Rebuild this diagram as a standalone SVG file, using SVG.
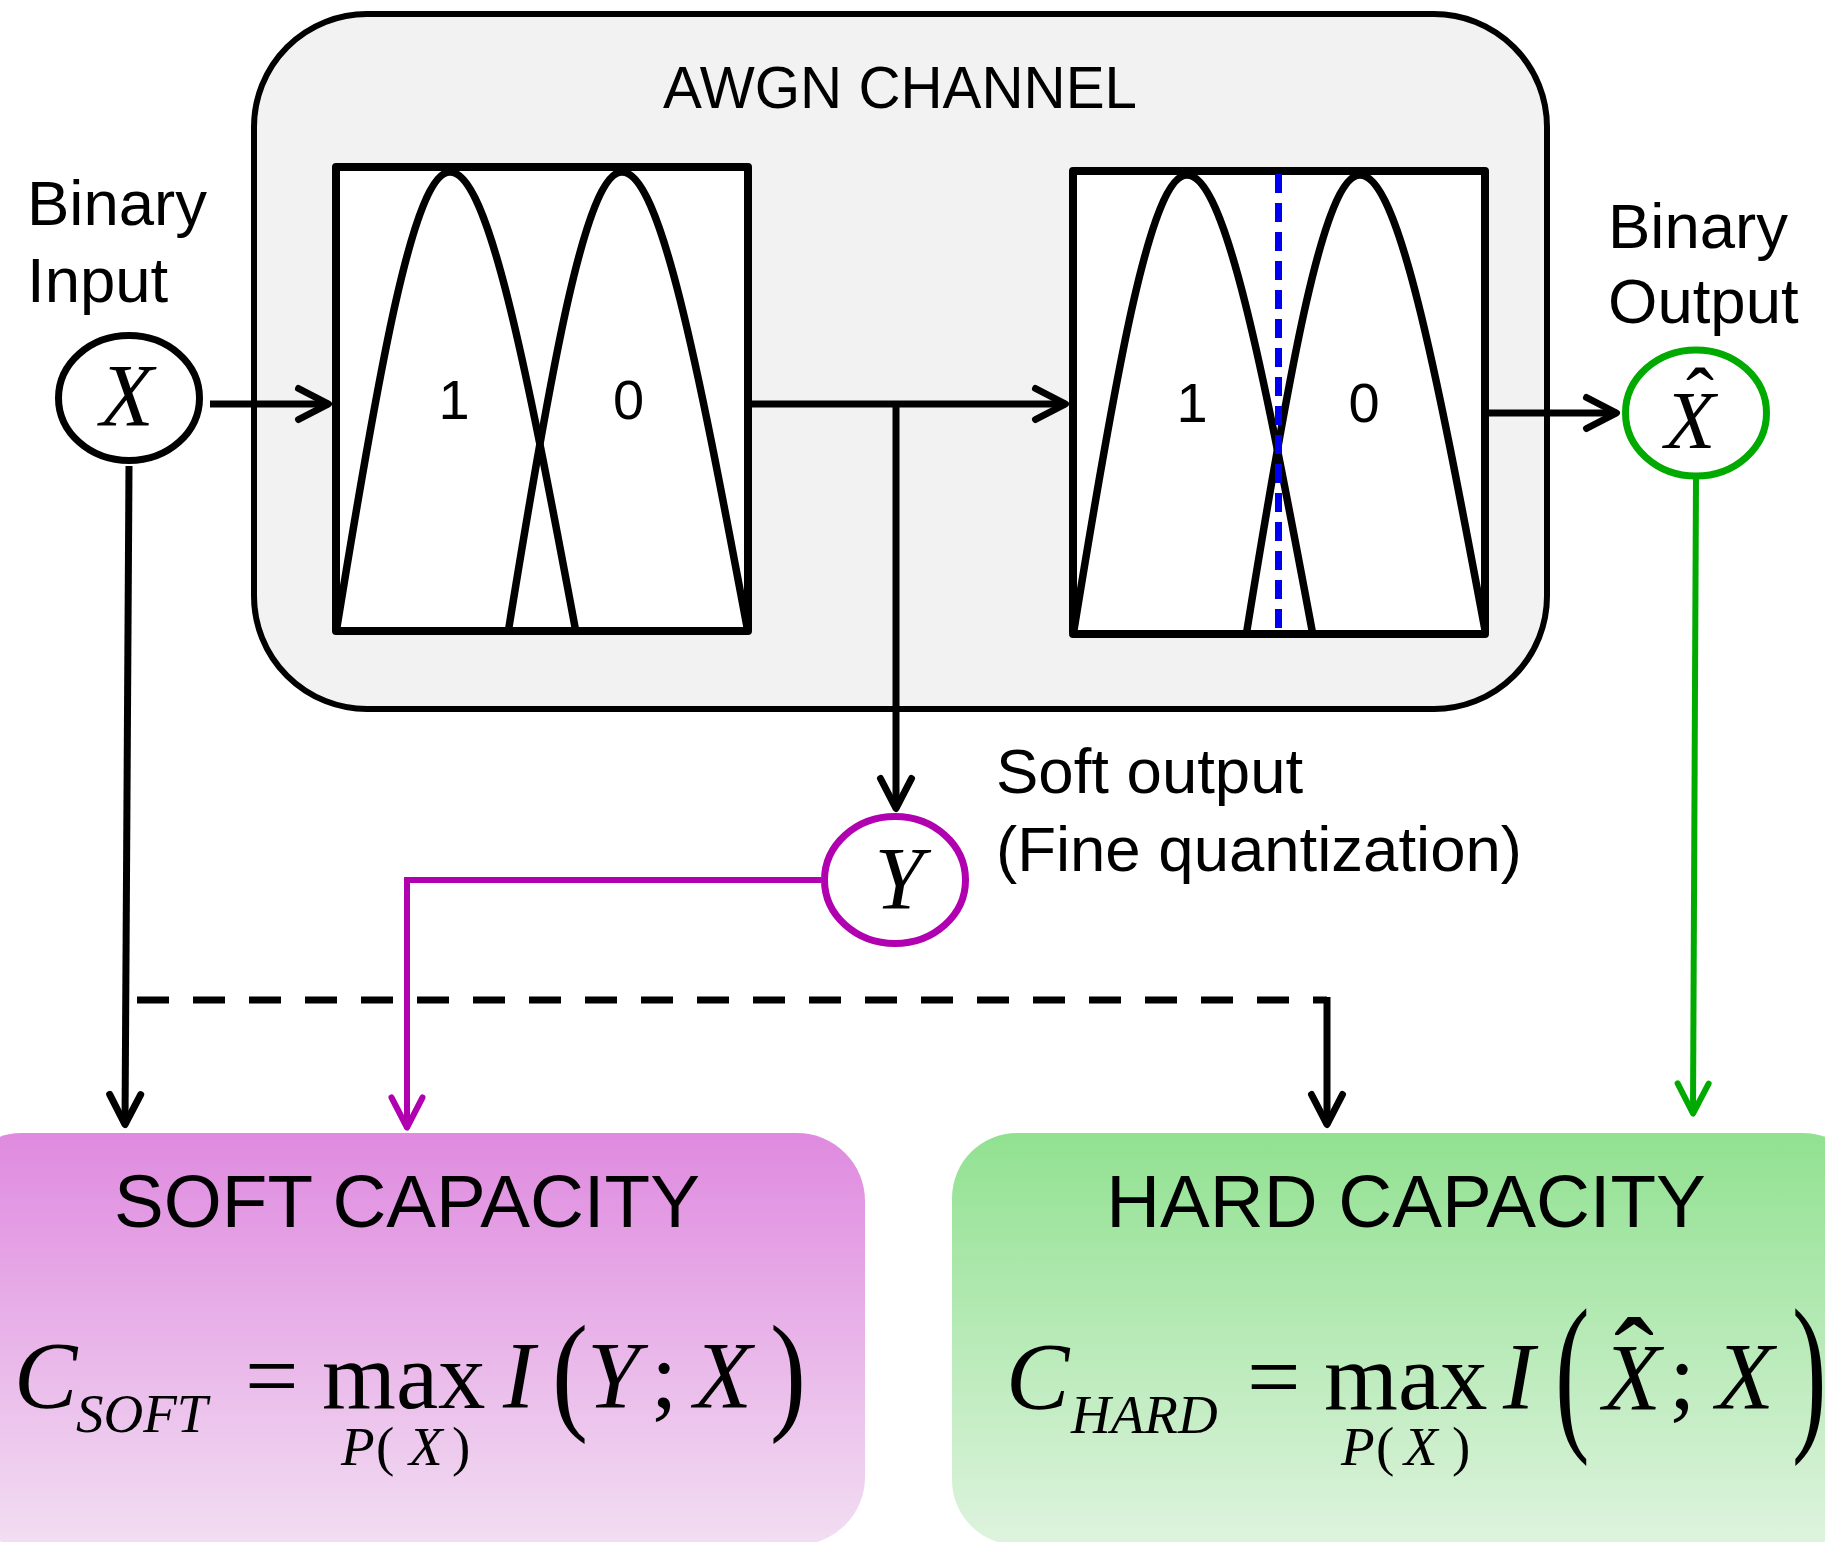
<svg xmlns="http://www.w3.org/2000/svg" xmlns:xlink="http://www.w3.org/1999/xlink" width="1825" height="1542" viewBox="0 0 1825 1542">
<defs>
<style>
.lbl{font-family:"Liberation Sans",Arial,sans-serif;fill:#000}
.m{font-family:"Liberation Serif","Times New Roman",serif;fill:#000}
.mi{font-family:"Liberation Serif","Times New Roman",serif;font-style:italic;fill:#000}
.up{font-style:normal}
.ln{fill:none;stroke:#000;stroke-width:7}
.pl{fill:none;stroke:#B000B0;stroke-width:6}
.gl{fill:none;stroke:#00AA00;stroke-width:6}
.box{fill:#fff;stroke:#000;stroke-width:8;stroke-linejoin:round}
.bell{fill:none;stroke:#000;stroke-width:7.5;stroke-linecap:round}
</style>
<linearGradient id="gSoft" x1="0" y1="0" x2="0" y2="1">
<stop offset="0" stop-color="#DF8ADF"/>
<stop offset="1" stop-color="#F2DEF2"/>
</linearGradient>
<linearGradient id="gHard" x1="0" y1="0" x2="0" y2="1">
<stop offset="0" stop-color="#91E191"/>
<stop offset="1" stop-color="#DEF3DE"/>
</linearGradient>
<path id="bell" class="bell" d="M-113,455 C-70,190 -36,0 0,0 C38,0 75,188 125,455"/>
<marker id="ahK" viewBox="-40 -22 50 44" refX="0" refY="0" markerWidth="50" markerHeight="44" markerUnits="userSpaceOnUse" orient="auto">
<path d="M-30,-15.5 L0,0 L-30,15.5" fill="none" stroke="#000" stroke-width="7" stroke-linecap="round" stroke-linejoin="round"/>
</marker>
<marker id="ahP" viewBox="-40 -22 50 44" refX="0" refY="0" markerWidth="50" markerHeight="44" markerUnits="userSpaceOnUse" orient="auto">
<path d="M-30,-15.5 L0,0 L-30,15.5" fill="none" stroke="#B000B0" stroke-width="6" stroke-linecap="round" stroke-linejoin="round"/>
</marker>
<marker id="ahG" viewBox="-40 -22 50 44" refX="0" refY="0" markerWidth="50" markerHeight="44" markerUnits="userSpaceOnUse" orient="auto">
<path d="M-30,-15.5 L0,0 L-30,15.5" fill="none" stroke="#00AA00" stroke-width="6" stroke-linecap="round" stroke-linejoin="round"/>
</marker>
</defs>
<rect width="1825" height="1542" fill="#fff"/>

<g id="channel">
<rect x="254" y="14" width="1293" height="695" rx="113" ry="113" fill="#F2F2F2" stroke="#000" stroke-width="6"/>
<text class="lbl" x="900" y="108" font-size="58.3" text-anchor="middle">AWGN CHANNEL</text>
</g>

<g id="soft-box">
<rect class="box" x="336" y="167" width="412" height="464"/>
<use xlink:href="#bell" x="450" y="172"/>
<use xlink:href="#bell" x="622" y="172"/>
<text class="lbl" x="454" y="419" font-size="56" text-anchor="middle">1</text>
<text class="lbl" x="628.5" y="419" font-size="56" text-anchor="middle">0</text>
</g>

<g id="hard-box">
<rect class="box" x="1073" y="171" width="412" height="463"/>
<use xlink:href="#bell" x="1187" y="175"/>
<use xlink:href="#bell" x="1360" y="175"/>
<line x1="1278.5" y1="174" x2="1278.5" y2="632" stroke="#0000F0" stroke-width="7" stroke-dasharray="19 10"/>
<text class="lbl" x="1192" y="422" font-size="56" text-anchor="middle">1</text>
<text class="lbl" x="1364" y="422" font-size="56" text-anchor="middle">0</text>
</g>

<g id="node-x">
<ellipse cx="129" cy="398" rx="70.5" ry="62.5" fill="#fff" stroke="#000" stroke-width="7"/>
<text class="mi" x="127" y="425" font-size="88" text-anchor="middle">X</text>
<text class="lbl" x="27" y="225" font-size="63.5">Binary</text>
<text class="lbl" x="27" y="302" font-size="63.5">Input</text>
</g>

<g id="node-xhat">
<ellipse cx="1696" cy="413" rx="70.5" ry="63" fill="#fff" stroke="#00AA00" stroke-width="7"/>
<text class="mi" x="1690" y="448" font-size="83" text-anchor="middle">X<tspan class="up" x="1700" y="426" font-size="84">ˆ</tspan></text>
<text class="lbl" x="1608" y="248" font-size="63.5">Binary</text>
<text class="lbl" x="1608" y="323" font-size="63.5">Output</text>
</g>

<g id="node-y">
<ellipse cx="895" cy="880" rx="70.5" ry="63.5" fill="#fff" stroke="#B000B0" stroke-width="7"/>
<text class="mi" x="899" y="908" font-size="88" text-anchor="middle">Y</text>
<text class="lbl" x="996" y="793" font-size="63.5">Soft output</text>
<text class="lbl" x="996" y="871" font-size="63.5">(Fine quantization)</text>
</g>

<g id="soft-capacity">
<rect x="-46" y="1133" width="911" height="412" rx="68" ry="68" fill="url(#gSoft)"/>
<text class="lbl" x="407" y="1227" font-size="74.6" text-anchor="middle">SOFT CAPACITY</text>
<text class="mi" font-size="95"><tspan x="14" y="1408">C</tspan><tspan x="76" y="1432" font-size="55">SOFT</tspan><tspan class="up" x="245" y="1408">=</tspan><tspan class="up" x="322" y="1408">max</tspan><tspan x="503" y="1408">I</tspan><tspan x="587" y="1408">Y</tspan><tspan class="up" x="651" y="1408">;</tspan><tspan x="694" y="1408">X</tspan></text>
<text class="m" transform="translate(552,1416) scale(0.82,1)" font-size="132">(</text>
<text class="m" transform="translate(770,1416) scale(0.82,1)" font-size="132">)</text>
<text class="mi" font-size="55" y="1465"><tspan x="341">P</tspan><tspan class="up" x="376">(</tspan><tspan x="409">X</tspan><tspan class="up" x="452">)</tspan></text>
</g>

<g id="hard-capacity">
<rect x="952" y="1133" width="916" height="412" rx="65" ry="65" fill="url(#gHard)"/>
<text class="lbl" x="1406" y="1227" font-size="74.6" text-anchor="middle">HARD CAPACITY</text>
<text class="mi" font-size="95"><tspan x="1006" y="1409">C</tspan><tspan x="1071" y="1433" font-size="55">HARD</tspan><tspan class="up" x="1247" y="1409">=</tspan><tspan class="up" x="1324" y="1409">max</tspan><tspan x="1503" y="1409">I</tspan><tspan x="1603" y="1410">X</tspan><tspan class="up" x="1614" y="1401" font-size="120">ˆ</tspan><tspan class="up" x="1669" y="1409">;</tspan><tspan x="1716" y="1409">X</tspan></text>
<text class="m" transform="translate(1555,1429) scale(0.6,1)" font-size="173">(</text>
<text class="m" transform="translate(1792,1429) scale(0.6,1)" font-size="173">)</text>
<text class="mi" font-size="55" y="1465"><tspan x="1341">P</tspan><tspan class="up" x="1376">(</tspan><tspan x="1404">X</tspan><tspan class="up" x="1452">)</tspan></text>
</g>

<g id="connectors">
<path class="ln" d="M210,404 H328.5" marker-end="url(#ahK)"/>
<path class="ln" d="M752,404 H1065.5" marker-end="url(#ahK)"/>
<path class="ln" d="M896,404 V808.5" marker-end="url(#ahK)"/>
<path class="ln" d="M1489,413 H1616.5" marker-end="url(#ahK)"/>
<path class="ln" d="M129,466 L125,1124.5" marker-end="url(#ahK)"/>
<path class="ln" d="M137,1000 H1327" stroke-dasharray="32 24"/>
<path class="ln" d="M1327,997 V1124.5" marker-end="url(#ahK)"/>
<path class="pl" d="M821,880 H407 V1127.5" marker-end="url(#ahP)"/>
<path class="gl" d="M1696,477 L1693,1113.5" marker-end="url(#ahG)"/>
</g>
</svg>
